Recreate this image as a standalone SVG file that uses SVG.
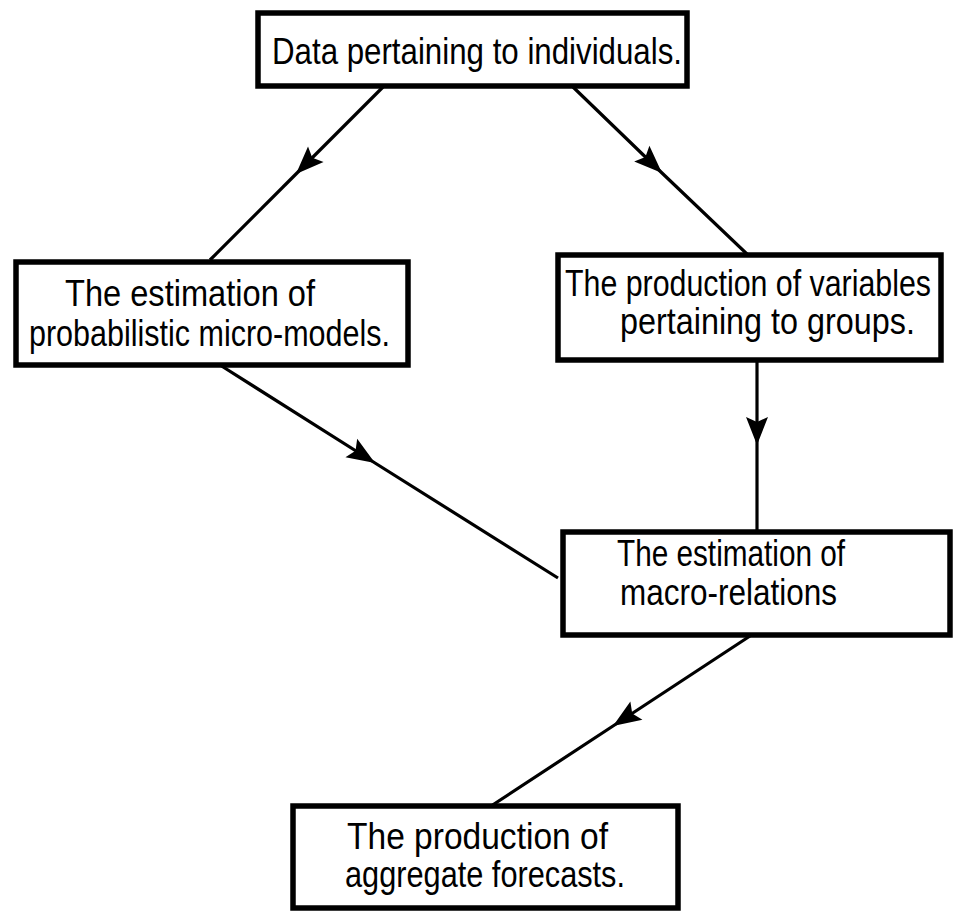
<svg xmlns="http://www.w3.org/2000/svg" width="954" height="912" viewBox="0 0 954 912">
<style>
.box{fill:#fff;stroke:#000;stroke-width:5.5}
.lbl{font-family:"Liberation Sans",Arial,sans-serif;font-size:37px;fill:#000}
.con{fill:none;stroke:#000;stroke-width:3.2;marker-mid:url(#arr)}
</style>
<defs>
<marker id="arr" markerUnits="userSpaceOnUse" markerWidth="40" markerHeight="30" viewBox="0 -15 30 30" refX="28" refY="0" orient="auto">
<path d="M0,-11 L28,0 L0,11 L5,0 Z" fill="#000"/>
</marker>
</defs>
<rect width="954" height="912" fill="#fff"/>
<g id="connectors">
<path class="con" d="M383,87 L296,174 L210,260"/>
<path class="con" d="M573,87 L662,173 L748,255"/>
<path class="con" d="M220,365 L375,463 L558,578"/>
<path class="con" d="M757,360 L757,445 L757,532"/>
<path class="con" d="M750,636 L613,726 L488,808"/>
</g>
<g id="n1">
<rect class="box" x="258" y="13" width="429" height="73"/>
<text class="lbl" x="272" y="64" textLength="410" lengthAdjust="spacingAndGlyphs">Data pertaining to individuals.</text>
</g>
<g id="n2">
<rect class="box" x="16" y="262" width="392" height="103"/>
<text class="lbl" x="65" y="306" textLength="250" lengthAdjust="spacingAndGlyphs">The estimation of</text>
<text class="lbl" x="29" y="346" textLength="361" lengthAdjust="spacingAndGlyphs">probabilistic micro-models.</text>
</g>
<g id="n3">
<rect class="box" x="558" y="255" width="383" height="105"/>
<text class="lbl" x="565" y="296" textLength="366" lengthAdjust="spacingAndGlyphs">The production of variables</text>
<text class="lbl" x="620" y="334" textLength="295" lengthAdjust="spacingAndGlyphs">pertaining to groups.</text>
</g>
<g id="n4">
<rect class="box" x="563" y="532" width="387" height="103"/>
<text class="lbl" x="617" y="566" textLength="228" lengthAdjust="spacingAndGlyphs">The estimation of</text>
<text class="lbl" x="620" y="605" textLength="217" lengthAdjust="spacingAndGlyphs">macro-relations</text>
</g>
<g id="n5">
<rect class="box" x="293" y="806" width="385" height="102"/>
<text class="lbl" x="347" y="849" textLength="261" lengthAdjust="spacingAndGlyphs">The production of</text>
<text class="lbl" x="345" y="887" textLength="280" lengthAdjust="spacingAndGlyphs">aggregate forecasts.</text>
</g>
</svg>
